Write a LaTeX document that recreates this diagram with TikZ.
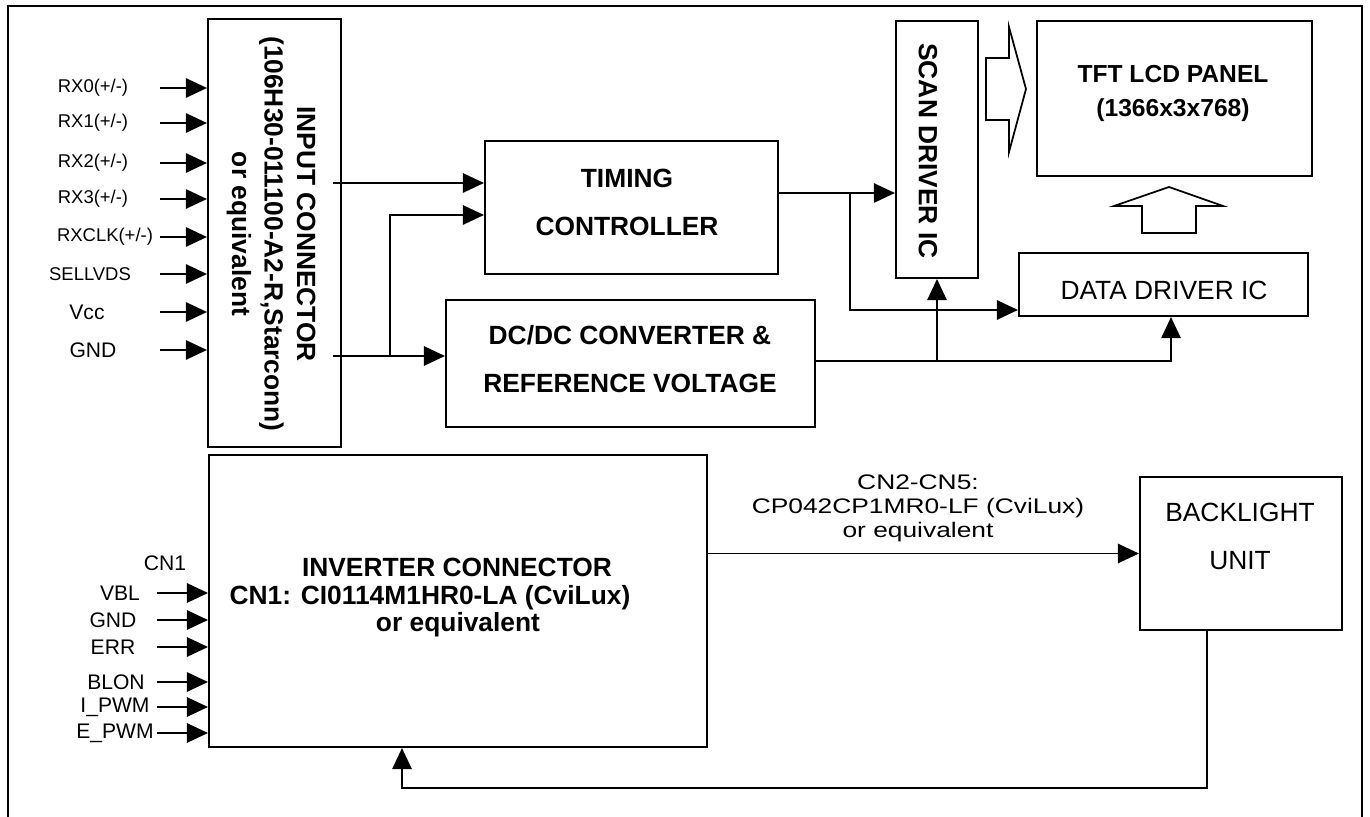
\documentclass[tikz,border=0pt]{standalone}
\usepackage{graphicx}
\usepackage{fontspec}
\setmainfont{Liberation Sans}
\usetikzlibrary{arrows.meta, positioning}

\begin{document}
\begin{tikzpicture}[
    x=0.02cm, y=-0.02cm,
    box/.style={rectangle, draw, line width=1.2pt, inner sep=0pt},
    title/.style={font=\fontsize{15}{27}\selectfont\bfseries, align=center},
    plain/.style={font=\fontsize{15}{27}\selectfont, align=center},
    sig/.style={font=\fontsize{12}{14}\selectfont, inner sep=1pt},
    arr/.style={-{Triangle[length=12pt, width=11pt]}, line width=1.1pt},
    hollow/.style={line width=1pt, line join=miter}
]
\useasboundingbox (0,0) rectangle (1370,817);

% Frame
\draw[line width=1.1pt] (8,830) -- (8,6) -- (1362,6) -- (1362,830);

% Blocks
\node[box, minimum width=2.66cm, minimum height=8.56cm] (input) at (274.5,233) {};
\node[title, rotate=-90, font=\fontsize{15}{18.5}\selectfont\bfseries] (inputtxt) at (271,234)
    {INPUT CONNECTOR\\(106H30-011100-A2-R,Starconn)\\or equivalent};
\node[box, minimum width=5.86cm, minimum height=2.66cm] (timing) at (631.5,207.5) {};
\node[title] (timingtxt) at (627,202.5) {TIMING\\CONTROLLER};
\node[box, minimum width=7.38cm, minimum height=2.54cm] (dcdc) at (630.5,363.5) {};
\node[title] (dcdctxt) at (630,359) {DC/DC CONVERTER \&\\REFERENCE VOLTAGE};
\node[box, minimum width=1.64cm, minimum height=5.14cm] (scan) at (937,149.5) {};
\node[title, rotate=-90] (scantxt) at (928,151) {SCAN DRIVER IC};
\node[box, minimum width=5.5cm, minimum height=3.1cm] (panel) at (1174.5,98.5) {};
\node[title, font=\fontsize{14}{19}\selectfont\bfseries] (paneltxt) at (1173,93.5) {TFT LCD PANEL\\(1366x3x768)};
\node[box, minimum width=5.78cm, minimum height=1.26cm] (data) at (1163.5,284.5) {};
\node[plain] (datatxt) at (1164,290) {DATA DRIVER IC};
\node[box, minimum width=9.96cm, minimum height=5.84cm] (inverter) at (458,601) {};
\node[title, font=\fontsize{15}{17}\selectfont\bfseries] (invtitle) at (457,567) {INVERTER CONNECTOR};
\node[title, font=\fontsize{15}{17}\selectfont\bfseries] (invpart) at (430,598) {CN1: CI0114M1HR0-LA (CviLux)};
\node[title, font=\fontsize{15}{17}\selectfont\bfseries] (inveq) at (458,625) {or equivalent};
\node[box, minimum width=4.04cm, minimum height=3.06cm] (backlight) at (1241,553.5) {};
\node[plain] (backlighttxt) at (1240,536.5) {BACKLIGHT\\UNIT};

% Hollow arrows to the panel
\draw[hollow] (986,58) -- (1009,58) -- (1009,27) -- (1026,89) -- (1009,152) -- (1009,120) -- (986,120) -- cycle;
\draw[hollow] (1142,233) -- (1142,206) -- (1114,206) -- (1169,187) -- (1223,206) -- (1196,206) -- (1196,233) -- cycle;

% Input signals
\foreach \txt/\lx/\yy/\fs [count=\i] in {{RX0(+/-)}/93/88/10.5, {RX1(+/-)}/93/123/10.5,
    {RX2(+/-)}/93/163/10.5, {RX3(+/-)}/93/199/10.5, {RXCLK(+/-)}/105/237/10.5,
    SELLVDS/90/274/10.5, Vcc/87/312/12, GND/93/350/12} {
    \node[sig, font=\fontsize{\fs}{12}\selectfont] (rx\i) at (\lx,\yy) {\txt};
    \coordinate (rxs\i) at (160,\yy);
    \draw[arr] (rxs\i) -- (input.west |- rxs\i);
}

% Inverter signals
\node[sig] (cn1) at (165,563) {CN1};
\foreach \txt/\lx/\yy [count=\i] in {VBL/120/593, GND/113/620, ERR/113/647,
    BLON/116/682, I\_PWM/115/707, E\_PWM/115/733} {
    \node[sig] (bl\i) at (\lx,\yy) {\txt};
    \coordinate (bls\i) at (157,\yy);
    \draw[arr] (bls\i) -- (inverter.west |- bls\i);
}

% Input connector to timing controller and DC/DC
\coordinate (tin) at (333,183);
\draw[arr] (tin) -- (timing.west |- tin);
\coordinate (din) at (333,356);
\coordinate (split) at (390,356);
\draw[arr] (din) -- (dcdc.west |- din);
\draw[arr] (split) -- (split |- 0,215) -- (timing.west |- 0,215);

% Timing controller to drivers
\coordinate (tout) at (850,193);
\draw[arr] (timing.east |- tout) -- (scan.west |- tout);
\draw[arr] (tout) -- (tout |- 0,310) -- (data.west |- 0,310);

% DC/DC to drivers
\coordinate (dout) at (1171,361);
\draw[arr] (dcdc.east |- dout) -- (dout) -- (data.south -| dout);
\draw[arr] (scan.south |- dout) -- (scan.south);

% Inverter and backlight
\draw[arr] (inverter.east |- backlight.west) -- (backlight.west);
\node[font=\fontsize{12}{13.7}\selectfont] (cnlbl) at (918,509)
    {\scalebox{1.25}[1]{\begin{tabular}{@{}c@{}}CN2-CN5:\\CP042CP1MR0-LF (CviLux)\\or equivalent\end{tabular}}};
\coordinate (fbr) at (1207,788);
\coordinate (fbl) at (402,788);
\draw[arr] (backlight.south -| fbr) -- (fbr) -- (fbl) -- (inverter.south -| fbl);

\end{tikzpicture}
\end{document}
